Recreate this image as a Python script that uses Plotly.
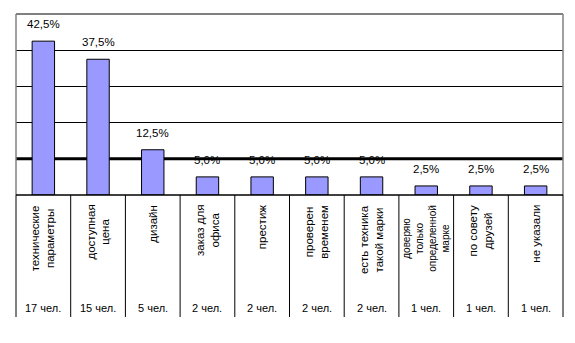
import plotly.graph_objects as go

# Survey: reasons for choosing a brand
categories = [
    "технические<br>параметры",
    "доступная<br>цена",
    "дизайн",
    "заказ для<br>офиса",
    "престиж",
    "проверен<br>временем",
    "есть техника<br>такой марки",
    "доверяю<br>только<br>определенной<br>марке",
    "по совету<br>друзей",
    "не указали",
]
people = [17, 15, 5, 2, 2, 2, 2, 1, 1, 1]
percent = [42.5, 37.5, 12.5, 5.0, 5.0, 5.0, 5.0, 2.5, 2.5, 2.5]

W, H = 575, 343
ML, MR, MT, MB = 16, 12, 14, 148
plot_h = H - MT - MB

def py(px_from_axis):
    """Paper y-coordinate for a pixel offset below the x axis."""
    return -px_from_axis / plot_h

idx = list(range(len(categories)))
n = len(categories)

font_family = "Liberation Sans, Arial"

fig = go.Figure()
fig.add_trace(go.Bar(
    x=idx,
    y=percent,
    width=0.41,
    marker=dict(color="#9999FF", line=dict(color="black", width=1)),
    hoverinfo="skip",
))

annotations = []
for i, v in zip(idx, percent):
    annotations.append(dict(
        x=i, y=v, xref="x", yref="y",
        text=f"{v:.1f}".replace(".", ",") + "%",
        showarrow=False, yanchor="bottom", yshift=9,
        font=dict(family=font_family, size=11.5, color="black"),
    ))
for i, c in zip(idx, categories):
    lines = c.count("<br>") + 1
    annotations.append(dict(
        x=i, y=py(8), xref="x", yref="paper",
        text=c, textangle=-90, showarrow=False,
        xanchor="center", yanchor="top", align="center",
        font=dict(family=font_family, size=11.5 if lines < 4 else 10, color="black"),
    ))
for i, p in zip(idx, people):
    annotations.append(dict(
        x=i, y=py(113), xref="x", yref="paper",
        text=f"{p} чел.", showarrow=False,
        xanchor="center", yanchor="middle",
        font=dict(family=font_family, size=11, color="black"),
    ))

shapes = []
# emphasised line at the 10% level
shapes.append(dict(type="line", xref="paper", yref="y", x0=0, x1=1, y0=10, y1=10,
                   line=dict(color="black", width=3), layer="below"))
# plot area frame (top, left, right)
shapes.append(dict(type="line", xref="paper", yref="paper", x0=0, x1=1, y0=1, y1=1,
                   line=dict(color="#808080", width=2)))
shapes.append(dict(type="line", xref="paper", yref="paper", x0=0, x1=0, y0=0, y1=1,
                   line=dict(color="#808080", width=1.5)))
shapes.append(dict(type="line", xref="paper", yref="paper", x0=1, x1=1, y0=0, y1=1,
                   line=dict(color="#808080", width=1.5)))
# category separators below the axis
for k in range(n + 1):
    shapes.append(dict(type="line", xref="paper", yref="paper",
                       x0=k / n, x1=k / n, y0=0, y1=py(122),
                       line=dict(color="black", width=1)))
# x axis line
shapes.append(dict(type="line", xref="paper", yref="paper", x0=0, x1=1, y0=0, y1=0,
                   line=dict(color="black", width=1.5)))

fig.update_layout(
    width=W, height=H,
    margin=dict(l=ML, r=MR, t=MT, b=MB),
    paper_bgcolor="white", plot_bgcolor="white",
    showlegend=False,
    xaxis=dict(range=[-0.5, n - 0.5], showticklabels=False, showgrid=False,
               zeroline=False, ticks=""),
    yaxis=dict(range=[0, 50], dtick=10, showticklabels=False, showgrid=True,
               gridcolor="black", gridwidth=1, zeroline=False, ticks=""),
    annotations=annotations,
    shapes=shapes,
)

fig.write_html("out.html")
